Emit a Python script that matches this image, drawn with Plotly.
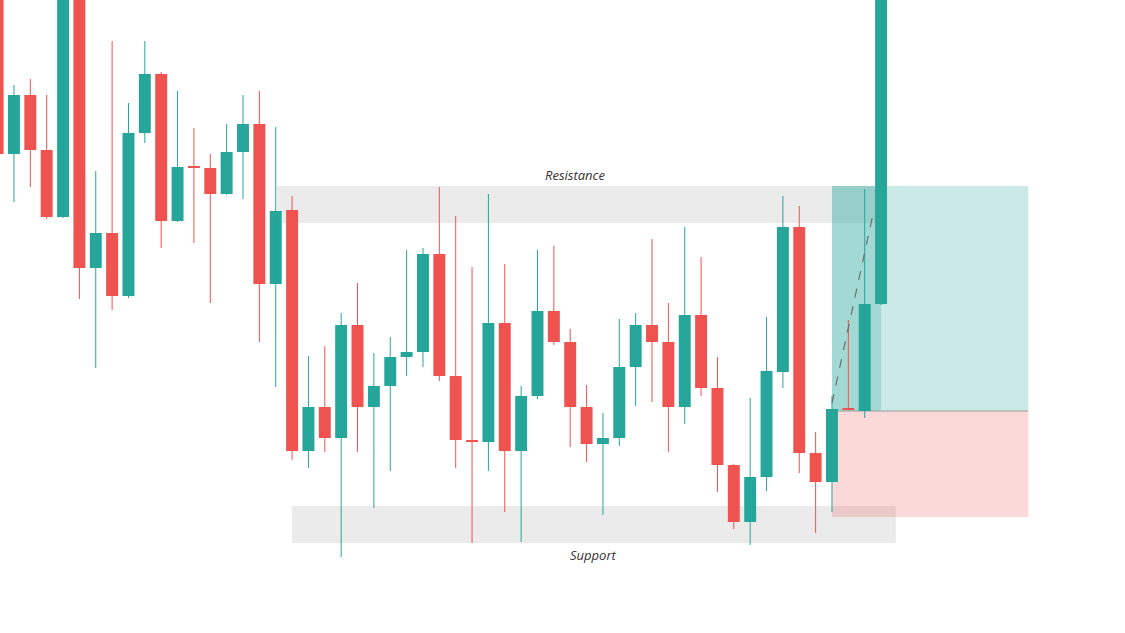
import plotly.graph_objects as go

# Candle data (open, high, low, close) in price units
opens  = [673, 479, 538, 483, 416, 673, 365, 400, 337, 500, 559, 412, 467, 465, 439, 481, 509, 349, 423, 182,
          226, 195, 308, 226, 247, 276, 281, 379, 257, 193, 191, 310, 182, 237, 322, 291, 226, 189, 195, 266,
          308, 291, 226, 318, 245, 168, 111, 156, 261, 406, 180, 151, 225, 222, 329]
highs  = [683, 548, 554, 538, 683, 683, 462, 592, 530, 592, 561, 542, 505, 479, 509, 538, 542, 506, 437, 277,
          287, 320, 350, 280, 296, 383, 385, 446, 417, 366, 439, 369, 247, 383, 387, 304, 248, 220, 314, 320,
          394, 330, 406, 376, 276, 169, 235, 316, 437, 427, 201, 237, 313, 444, 683]
lows   = [477, 431, 446, 414, 415, 334, 265, 323, 335, 490, 385, 411, 390, 330, 438, 434, 291, 246, 173, 165,
          181, 76, 181, 125, 162, 257, 266, 252, 165, 90, 162, 121, 91, 234, 288, 186, 171, 118, 187, 227,
          231, 181, 209, 237, 141, 104, 88, 142, 245, 160, 100, 121, 223, 215, 328]
closes = [479, 538, 483, 416, 673, 365, 400, 337, 500, 559, 412, 466, 465, 439, 481, 509, 349, 422, 182, 226,
          195, 308, 226, 247, 276, 281, 379, 257, 193, 191, 310, 182, 237, 322, 291, 226, 189, 195, 266, 308,
          291, 226, 318, 245, 168, 111, 156, 262, 406, 180, 151, 224, 223, 329, 673]
idx = list(range(len(opens)))

# Zones
resistance = (410, 447)
resistance_x = (17.08, 54.06)
support = (90, 127)
support_x = (17.99, 54.9)
entry, target, stop = 222, 447, 116
position_x = (51.0, 63.0)
filled_to = 54.0
path_x = [51.0, 53.55]
path_y = [230, 422]

UP = "#26a69a"
DOWN = "#ef5350"

fig = go.Figure()

# Wicks
for color, up in ((UP, True), (DOWN, False)):
    wx, wy = [], []
    for i, o, h, l, c in zip(idx, opens, highs, lows, closes):
        if (c >= o) == up:
            wx += [i, i, None]
            wy += [l, h, None]
    fig.add_trace(go.Scatter(x=wx, y=wy, mode="lines", line=dict(color=color, width=1),
                             hoverinfo="skip", showlegend=False))

# Bodies
base = [min(o, c) for o, c in zip(opens, closes)]
height = [max(abs(c - o), 2) for o, c in zip(opens, closes)]
colors = [UP if c >= o else DOWN for o, c in zip(opens, closes)]
fig.add_trace(go.Bar(x=idx, y=height, base=base, width=0.73,
                     marker=dict(color=colors, line=dict(width=0)), showlegend=False))

# Dashed projected path
fig.add_trace(go.Scatter(x=path_x, y=path_y, mode="lines",
                         line=dict(color="#6f6f6f", width=1.2, dash="dash"),
                         hoverinfo="skip", showlegend=False))

shapes = [
    dict(type="rect", xref="x", yref="y", x0=resistance_x[0], x1=resistance_x[1],
         y0=resistance[0], y1=resistance[1], fillcolor="#ebebeb", line=dict(width=0), layer="below"),
    dict(type="rect", xref="x", yref="y", x0=support_x[0], x1=support_x[1],
         y0=support[0], y1=support[1], fillcolor="#ebebeb", line=dict(width=0), layer="below"),
    dict(type="rect", xref="x", yref="y", x0=position_x[0], x1=position_x[1],
         y0=entry, y1=target, fillcolor="rgba(38,166,154,0.24)", line=dict(width=0), layer="below"),
    dict(type="rect", xref="x", yref="y", x0=position_x[0], x1=position_x[1],
         y0=stop, y1=entry, fillcolor="rgba(239,83,80,0.22)", line=dict(width=0), layer="below"),
    dict(type="rect", xref="x", yref="y", x0=position_x[0], x1=filled_to,
         y0=entry, y1=target, fillcolor="rgba(38,166,154,0.25)", line=dict(width=0), layer="below"),
    dict(type="line", xref="x", yref="y", x0=position_x[0], x1=position_x[1],
         y0=entry, y1=entry, line=dict(color="#9e9e9e", width=1), layer="below"),
]

annotations = [
    dict(x=35.3, y=458, xref="x", yref="y", text="<i>Resistance</i>", showarrow=False,
         font=dict(family="Open Sans", size=13, color="#333333")),
    dict(x=36.45, y=78, xref="x", yref="y", text="<i>Support</i>", showarrow=False,
         font=dict(family="Open Sans", size=13, color="#333333")),
]

fig.update_layout(
    width=1125, height=633,
    margin=dict(l=0, r=0, t=0, b=0),
    paper_bgcolor="white", plot_bgcolor="white",
    barmode="overlay", showlegend=False,
    shapes=shapes, annotations=annotations,
    xaxis=dict(range=[0.147, 68.91], showgrid=False, zeroline=False, showticklabels=False,
               fixedrange=True, rangeslider=dict(visible=False)),
    yaxis=dict(range=[0, 633], showgrid=False, zeroline=False, showticklabels=False, fixedrange=True),
)

fig.write_html("out.html", config={"displayModeBar": False},
               post_script="document.body.style.margin='0';document.body.style.overflow='hidden';")
